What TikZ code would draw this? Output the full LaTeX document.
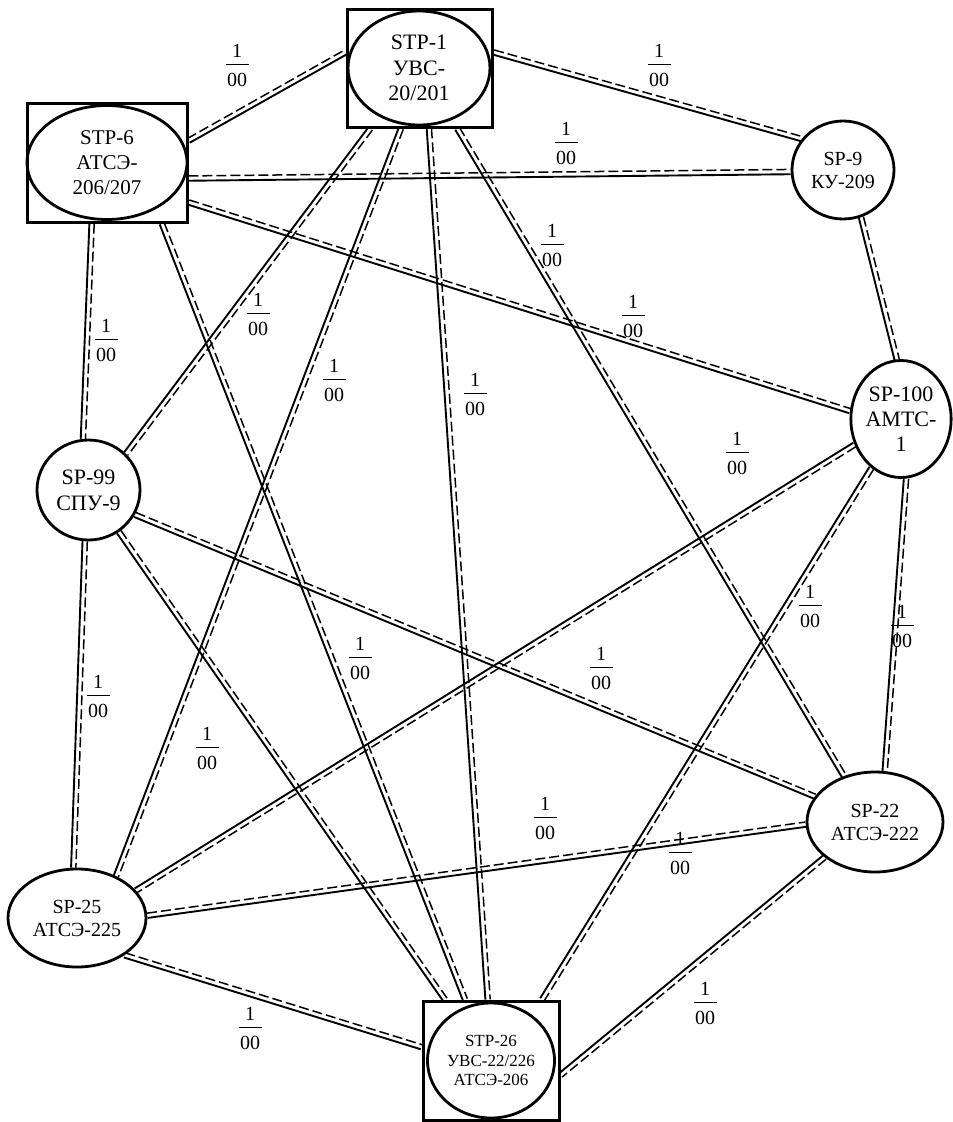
\documentclass[tikz,border=0pt]{standalone}
\usepackage{fontspec}
\setmainfont{Liberation Serif}
\usetikzlibrary{calc,shapes.geometric}
\setlength{\arrayrulewidth}{1.1pt}
\newcommand\frc{\begin{tabular}{@{\hspace{1.5pt}}c@{\hspace{1.5pt}}}1\\\hline\rule{0pt}{21pt}00\end{tabular}}
\tikzset{
  ell/.style={ellipse, draw, line width=2.8pt, inner sep=0pt, align=center},
  stpbox/.style={rectangle, draw, line width=3pt, inner sep=0pt},
  solidline/.style={line width=1.9pt},
  dashline/.style={line width=1.5pt, dash pattern=on 10pt off 4pt},
  lbl/.style={inner sep=0pt, font=\fontsize{20}{24}\selectfont}
}
\newcommand\pr[2]{%
  \path (#1) -- coordinate[pos=0] (s) coordinate[pos=1] (e) (#2);
  \draw[solidline] ($(s)!2.4pt!-90:(e)$) -- ($(e)!2.4pt!90:(s)$);
  \draw[dashline] ($(s)!2.4pt!90:(e)$) -- ($(e)!2.4pt!-90:(s)$);
}
\begin{document}
\begin{tikzpicture}[x=1pt,y=-1pt]
\useasboundingbox (0,0) rectangle (953,1122);
% STP nodes (box + ellipse)
\node[stpbox, minimum width=145pt, minimum height=118pt] (n1) at (419.5,68) {};
\node[ell, minimum width=142pt, minimum height=114pt, font=\fontsize{22}{25.5}\selectfont] (n1e) at (419,68) {STP-1\\УВС-\\20/201};
\node[stpbox, minimum width=160pt, minimum height=119pt] (n6) at (107,162.5) {};
\node[ell, minimum width=160pt, minimum height=114pt, font=\fontsize{21}{25}\selectfont] (n6e) at (107,162.5) {STP-6\\АТСЭ-\\206/207};
\node[stpbox, minimum width=136pt, minimum height=119pt] (n26) at (491,1060.5) {};
\node[ell, minimum width=127pt, minimum height=115pt, font=\fontsize{17}{19.5}\selectfont] (n26e) at (491,1060.5) {STP-26\\УВС-22/226\\АТСЭ-206};
% SP nodes
\node[ell, minimum width=102pt, minimum height=98pt, font=\fontsize{20}{23}\selectfont] (n9) at (843,170) {SP-9\\КУ-209};
\node[ell, minimum width=100pt, minimum height=117pt, font=\fontsize{22}{25}\selectfont] (n100) at (901,419) {SP-100\\АМТС-\\1};
\node[ell, minimum width=103pt, minimum height=100pt, font=\fontsize{22}{26}\selectfont] (n99) at (88.5,490) {SP-99\\СПУ-9};
\node[ell, minimum width=136pt, minimum height=100pt, font=\fontsize{20}{23}\selectfont] (n22) at (875,822) {SP-22\\АТСЭ-222};
\node[ell, minimum width=138pt, minimum height=98pt, font=\fontsize{20}{23}\selectfont] (n25) at (77,918) {SP-25\\АТСЭ-225};
% connectors
\pr{n6.15}{n1.168}
\pr{n1.12}{n9.143}
\pr{n6.349.7}{n9.182}
\pr{n1.231}{n99.44.6}
\pr{n1.253.5}{n25.47}
\pr{n1.279}{n26.93}
\pr{n1.302.4}{n22.124.3}
\pr{n6.256.8}{n99.96.3}
\pr{n6.312.8}{n26.113.6}
\pr{n6.334.9}{n100.171.9}
\pr{n9.291.6}{n100.94.9}
\pr{n100.209.5}{n25.25}
\pr{n100.239.4}{n26.50.5}
\pr{n100.275.9}{n22.79.8}
\pr{n99.332.2}{n22.157.4}
\pr{n99.266}{n25.94.8}
\pr{n99.306}{n26.127.7}
\pr{n25.2}{n22.182.5}
\pr{n25.322.6}{n26.169.6}
\pr{n22.215.8}{n26.348}
% labels
\node[lbl] (l1) at (237,67) {\frc};
\node[lbl] (l2) at (659,67) {\frc};
\node[lbl] (l3) at (566,145) {\frc};
\node[lbl] (l4) at (552,247) {\frc};
\node[lbl] (l5) at (633,318) {\frc};
\node[lbl] (l6) at (258,316) {\frc};
\node[lbl] (l7) at (106,342) {\frc};
\node[lbl] (l8) at (334,382) {\frc};
\node[lbl] (l9) at (475,396) {\frc};
\node[lbl] (l10) at (737,455) {\frc};
\node[lbl] (l11) at (810,608) {\frc};
\node[lbl] (l12) at (902,628) {\frc};
\node[lbl] (l13) at (360,660) {\frc};
\node[lbl] (l14) at (601,670) {\frc};
\node[lbl] (l15) at (98,698) {\frc};
\node[lbl] (l16) at (207,750) {\frc};
\node[lbl] (l17) at (545,820) {\frc};
\node[lbl] (l18) at (680,855) {\frc};
\node[lbl] (l19) at (705,1005) {\frc};
\node[lbl] (l20) at (250,1030) {\frc};
\end{tikzpicture}
\end{document}
